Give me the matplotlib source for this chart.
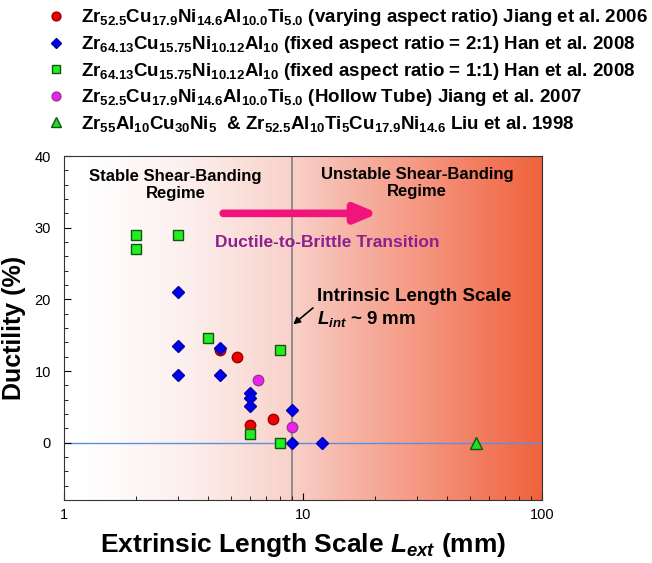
import numpy as np
import matplotlib
matplotlib.use('Agg')
import matplotlib.pyplot as plt
from matplotlib.colors import LinearSegmentedColormap
from matplotlib.ticker import MultipleLocator, LogLocator, NullFormatter

plt.rcParams['font.family'] = ['Liberation Sans', 'DejaVu Sans']
plt.rcParams['mathtext.fontset'] = 'custom'
plt.rcParams['mathtext.rm'] = 'Liberation Sans:bold'
plt.rcParams['mathtext.bf'] = 'Liberation Sans:bold'
plt.rcParams['mathtext.it'] = 'Liberation Sans:bold:italic'

# data (length in mm, ductility in %)
jiang06_x = [4.5, 5.3, 6.0, 7.5]
jiang06_y = [12.9, 12.0, 2.5, 3.3]
han21_x = [3, 3, 3, 4.5, 4.5, 6, 6, 6, 9, 9, 12]
han21_y = [21, 13.5, 9.4, 13.2, 9.4, 6.9, 6.3, 5.1, 4.6, 0, 0]
han11_x = [2, 2, 3, 4, 6, 8, 8]
han11_y = [29, 27, 29, 14.6, 1.2, 12.9, 0]
jiang07_x = [6.5, 9]
jiang07_y = [8.8, 2.2]
liu98_x = [53]
liu98_y = [0]

labels = [
    r'$\mathrm{Zr_{52.5}Cu_{17.9}Ni_{14.6}Al_{10.0}Ti_{5.0}}$ (varying aspect ratio) Jiang et al. 2006',
    r'$\mathrm{Zr_{64.13}Cu_{15.75}Ni_{10.12}Al_{10}}$ (fixed aspect ratio = 2:1) Han et al. 2008',
    r'$\mathrm{Zr_{64.13}Cu_{15.75}Ni_{10.12}Al_{10}}$ (fixed aspect ratio = 1:1) Han et al. 2008',
    r'$\mathrm{Zr_{52.5}Cu_{17.9}Ni_{14.6}Al_{10.0}Ti_{5.0}}$ (Hollow Tube) Jiang et al. 2007',
    r'$\mathrm{Zr_{55}Al_{10}Cu_{30}Ni_{5}}$  & $\mathrm{Zr_{52.5}Al_{10}Ti_{5}Cu_{17.9}Ni_{14.6}}$ Liu et al. 1998',
]

L_int = 9

fig = plt.figure(figsize=(6.52, 5.63), dpi=100)
ax = fig.add_axes([0.0974, 0.1119, 0.7339, 0.611])

# background gradient white -> orange red
cmap = LinearSegmentedColormap.from_list('bg', [
    (0.0, '#ffffff'), (0.05, '#ffffff'), (0.25, '#fcf0ee'), (0.47, '#f9d2cb'),
    (0.6, '#f6b4a6'), (0.75, '#f59680'), (0.88, '#f37a5c'), (1.0, '#f0623c')])
ax.imshow(np.linspace(0, 1, 256).reshape(1, -1), cmap=cmap, aspect='auto',
          extent=[0, 1, 0, 1], transform=ax.transAxes, zorder=0)

ax.set_xscale('log')
ax.set_xlim(1, 100)
ax.set_ylim(-8, 40)

ax.axhline(0, color='#5b8fe0', lw=1, zorder=1)
ax.axvline(L_int, color='#808080', lw=1.2, zorder=1)

h1, = ax.plot(jiang06_x, jiang06_y, 'o', ms=7.5, mfc='#ee0000', mec='#990000', ls='none', zorder=3)
h2, = ax.plot(han21_x, han21_y, 'D', ms=6.5, mfc='#0000ee', mec='#0000aa', ls='none', zorder=3)
h3, = ax.plot(han11_x, han11_y, 's', ms=7, mfc='#22ee22', mec='#115511', ls='none', zorder=3)
h4, = ax.plot(jiang07_x, jiang07_y, 'o', ms=7.5, mfc='#ee22ee', mec='#993399', ls='none', zorder=3)
h5, = ax.plot(liu98_x, liu98_y, '^', ms=8, mfc='#22dd22', mec='#115511', ls='none', zorder=3)

fig.legend([h1, h2, h3, h4, h5], labels, loc='upper left',
           bbox_to_anchor=(0.057, 1.0), frameon=False,
           handletextpad=0.75, labelspacing=0.3, borderaxespad=0,
           handlelength=1.2, markerscale=0.85,
           prop={'weight': 'bold', 'size': 13.5})

# annotations
ax.text(2.94, 35.9, 'Stable Shear-Banding\nRegime', ha='center', va='center',
        fontsize=12, fontweight='bold', linespacing=1.15)
ax.text(30, 36.2, 'Unstable Shear-Banding\nRegime', ha='center', va='center',
        fontsize=12, fontweight='bold', linespacing=1.15)
ax.annotate('', xy=(20.7, 32), xytext=(4.65, 32),
            arrowprops=dict(arrowstyle='-|>,head_length=1.3,head_width=0.55',
                            lw=5.5, color='#f0147c', capstyle='round',
                            joinstyle='round', shrinkA=0, shrinkB=0))
ax.text(12.65, 27.9, 'Ductile-to-Brittle Transition', ha='center', va='center',
        fontsize=12.5, fontweight='bold', color='#8e1f8e')
ax.text(11.5, 20.4, 'Intrinsic Length Scale', ha='left', va='center',
        fontsize=13.5, fontweight='bold')
ax.text(11.5, 17.2, r'$\mathit{L_{int}}$ ~ 9 mm', ha='left', va='center',
        fontsize=13.5, fontweight='bold')
ax.annotate('', xy=(9.12, 16.5), xytext=(11.03, 18.8),
            arrowprops=dict(arrowstyle='-|>,head_length=0.4,head_width=0.2',
                            lw=1.2, color='black', shrinkA=0, shrinkB=0))

ax.yaxis.set_major_locator(MultipleLocator(10))
ax.yaxis.set_minor_locator(MultipleLocator(2))
ax.xaxis.set_major_locator(LogLocator(base=10))
ax.xaxis.set_minor_locator(LogLocator(base=10, subs=np.arange(2, 10)))
ax.xaxis.set_minor_formatter(NullFormatter())
ax.xaxis.set_major_formatter(matplotlib.ticker.FuncFormatter(lambda v, p: '%g' % v))
ax.tick_params(which='both', direction='in', labelsize=10.5)
ax.tick_params(which='major', length=5)
ax.tick_params(which='minor', length=3)
ax.tick_params(axis='x', pad=6)
ax.tick_params(axis='y', pad=9)
for s in ax.spines.values():
    s.set_color('#333333')

ax.set_xlabel(r'Extrinsic Length Scale $\mathit{L_{ext}}$ (mm)', fontsize=19,
              fontweight='bold', labelpad=6)
ax.set_ylabel('Ductility (%)', fontsize=18, fontweight='bold', labelpad=6)

fig.savefig('out.png', dpi=100)
